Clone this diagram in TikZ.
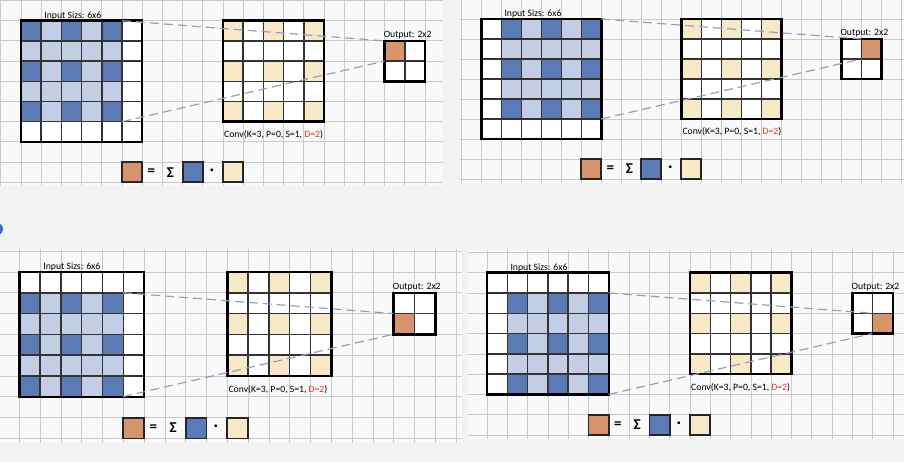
\documentclass[tikz,border=0pt]{standalone}
\usepackage{fontspec}
\setmainfont{Carlito}
\definecolor{lightblue}{HTML}{C3CDE3}
\definecolor{darkblue}{HTML}{5A7BB5}
\definecolor{beige}{HTML}{F7E8C6}
\definecolor{resorange}{HTML}{D5946C}
\definecolor{convred}{HTML}{E2382B}
\definecolor{linkgray}{HTML}{9A9CC4}
\definecolor{papergrid}{HTML}{CACACA}
\definecolor{pagebg}{HTML}{F2F2F2}
\definecolor{paperbg}{HTML}{F9F9F9}
\definecolor{uiblue}{HTML}{1A73E8}
\tikzset{
bggrid/.style={draw=papergrid, line width=0.8pt},
cellline/.style={draw=black!80, line width=1.5pt},
frame/.style={draw=black, line width=2.5pt},
keybox/.style={draw=black!85, line width=1.8pt},
link/.style={draw=linkgray, line width=1.2pt, dash pattern=on 9pt off 5pt},
lbl/.style={font=\fontsize{9.7}{11}\selectfont, inner sep=0pt, anchor=base west},
sym/.style={font=\fontsize{15}{17}\selectfont\bfseries, inner sep=0pt},
pics/paper/.style n args={4}{code={
  \fill[paperbg] (#3,-1.1) rectangle (#4,8.2);
  \foreach \i in {#1,...,#2} \draw[bggrid] (\i,-1.1) -- (\i,8.2);
  \foreach \j in {-1,...,8} \draw[bggrid] (#3,\j) -- (#4,\j);
  }},
pics/panel/.style n args={4}{code={
  \fill[white] (0,0) rectangle (6,6);
  \fill[lightblue] (#1,#2) rectangle ++(5,5);
  \foreach \c in {0,2,4} \foreach \r in {0,2,4}
    \fill[darkblue] (#1+\c,#2+\r) rectangle ++(1,1);
  \foreach \k in {1,...,5} {
    \draw[cellline] (\k,0) -- (\k,6);
    \draw[cellline] (0,\k) -- (6,\k);
  }
  \draw[frame] (0,0) rectangle (6,6);
  \fill[white] (10,0) rectangle (15,5);
  \foreach \c in {0,2,4} \foreach \r in {0,2,4}
    \fill[beige] (10+\c,\r) rectangle ++(1,1);
  \foreach \k in {1,...,4} {
    \draw[cellline] (10+\k,0) -- (10+\k,5);
    \draw[cellline] (10,\k) -- (15,\k);
  }
  \draw[frame] (10,0) rectangle (15,5);
  \fill[white] (18,1) rectangle (20,3);
  \fill[resorange] (18+#3,1+#4) rectangle ++(1,1);
  \draw[cellline] (19,1) -- (19,3);
  \draw[cellline] (18,2) -- (20,2);
  \draw[frame] (18,1) rectangle (20,3);
  \node[lbl] (-inlbl) at (1.15,-0.13) {Input Sizs: 6x6};
  \node[lbl] (-outlbl) at (17.95,0.84) {Output: 2x2};
  \node[lbl] (-convlbl) at (10.05,5.8) {Conv(K=3, P=0, S=1, \textcolor{convred}{D=2})};
  \draw[keybox, fill=resorange] (5,7) rectangle ++(1,1);
  \node[sym] (-eq) at (6.45,7.5) {=};
  \node[sym] (-sum) at (7.4,7.5) {Σ};
  \draw[keybox, fill=darkblue] (8,7) rectangle ++(1,1);
  \node[sym] (-dot) at (9.45,7.5) {·};
  \draw[keybox, fill=beige] (10,7) rectangle ++(1,1);
  \coordinate (-fromtop) at (#1+5,#2);
  \coordinate (-frombot) at (#1+5,#2+5);
  \coordinate (-totop) at (18+#3,1+#4);
  \coordinate (-tobot) at (18+#3,2+#4);
  \draw[link] (-fromtop) -- (-totop);
  \draw[link] (-frombot) -- (-tobot);
  }}
}
\begin{document}
\begin{tikzpicture}[x=1pt,y=-1pt]
\useasboundingbox (0,0) rectangle (904,462);
\clip (0,0) rectangle (904,462);
\fill[pagebg] (0,0) rectangle (904,462);
\pic[scale=20.2] at (21,20.7) {paper={-1}{20}{-1.05}{20.9}};
\pic[scale=20.2] (one) at (21,20.7) {panel={0}{0}{0}{0}};
\pic[scale=20] at (481.3,19) {paper={-1}{21}{-1.05}{21.5}};
\pic[scale=20] (two) at (481.3,19) {panel={1}{0}{1}{0}};
\pic[scale=20.8] at (19.3,272) {paper={-1}{21}{-1}{21.3}};
\pic[scale=20.8] (three) at (19.3,272) {panel={0}{1}{0}{1}};
\pic[scale=20.3] at (487,272.7) {paper={0}{21}{-0.95}{21}};
\pic[scale=20.3] (four) at (487,272.7) {panel={1}{1}{1}{1}};
\fill[uiblue] (-3,229) circle (6);
\end{tikzpicture}
\end{document}
